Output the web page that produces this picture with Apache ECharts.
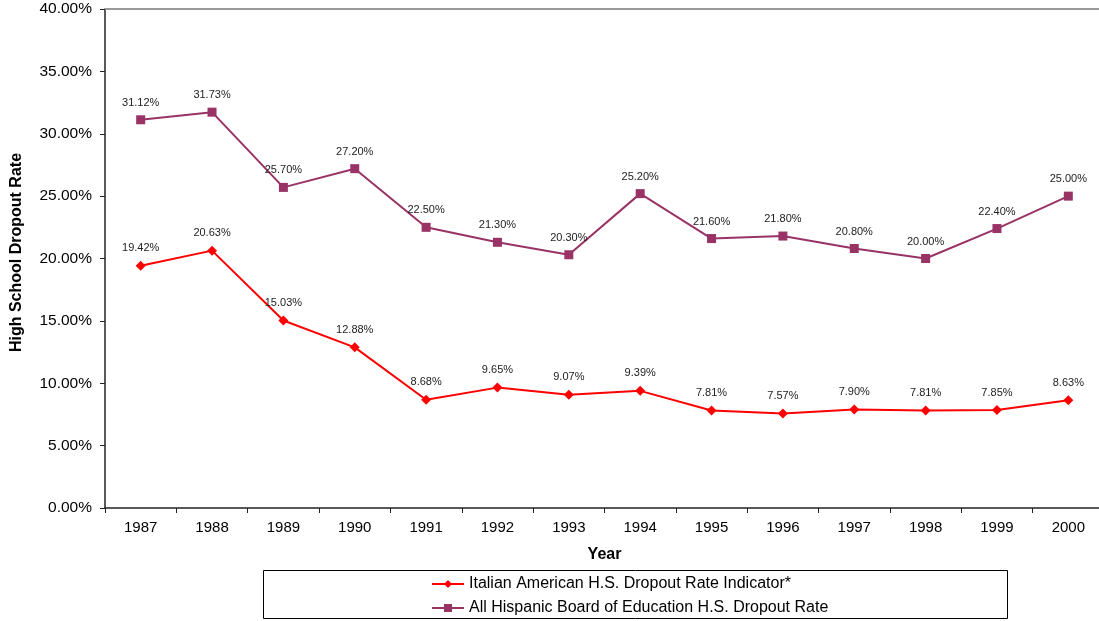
<!DOCTYPE html>
<html>
<head>
<meta charset="utf-8">
<script src="https://cdn.jsdelivr.net/npm/echarts@6/dist/echarts.min.js"></script>
<style>
  html, body { margin: 0; padding: 0; background: #fff; }
  #chart { width: 1099px; height: 621px; }
</style>
</head>
<body>
<div id="chart"></div>
<script>
// Năm (trục X)
const years = ['1987', '1988', '1989', '1990', '1991', '1992', '1993', '1994', '1995', '1996', '1997', '1998', '1999', '2000'];

// Tỉ lệ bỏ học (%)
const italianRates = [19.42, 20.63, 15.03, 12.88, 8.68, 9.65, 9.07, 9.39, 7.81, 7.57, 7.90, 7.81, 7.85, 8.63];
const hispanicRates = [31.12, 31.73, 25.70, 27.20, 22.50, 21.30, 20.30, 25.20, 21.60, 21.80, 20.80, 20.00, 22.40, 25.00];

const seriesNames = [
  'Italian American H.S. Dropout Rate Indicator*',
  'All Hispanic Board of Education H.S. Dropout Rate'
];

const FONT = 'Liberation Sans, Arial, sans-serif';

const chart = echarts.init(document.getElementById('chart'));

const pct = v => v.toFixed(2) + '%';

const labelStyle = {
  show: true,
  position: 'top',
  distance: 7,
  fontSize: 11,
  fontFamily: FONT,
  color: '#222',
  formatter: p => pct(p.value)
};

const option = {
  backgroundColor: '#fff',
  animation: false,
  textStyle: { fontFamily: FONT },
  grid: {
    left: 105,
    right: -5,
    top: 9,
    bottom: 113,
    outerBoundsMode: 'none'
  },
  // Khung legend
  graphic: [
    {
      type: 'rect',
      shape: { x: 263.5, y: 570.5, width: 744, height: 48 },
      style: { fill: 'none', stroke: '#000', lineWidth: 1 },
      silent: true
    }
  ],
  legend: {
    orient: 'vertical',
    left: 431,
    top: 576,
    padding: 0,
    itemWidth: 32,
    itemHeight: 10,
    itemGap: 8,
    textStyle: { fontSize: 16, lineHeight: 16, color: '#000', fontFamily: FONT },
    data: seriesNames
  },
  xAxis: [
    {
      type: 'category',
      data: years,
      boundaryGap: true,
      name: 'Year',
      nameLocation: 'middle',
      nameGap: 39,
      nameTextStyle: { fontSize: 16, fontWeight: 'bold', color: '#000' },
      axisLine: { lineStyle: { color: '#222', width: 1.5 } },
      axisTick: { show: true, length: 5, lineStyle: { color: '#222' } },
      axisLabel: { fontSize: 15, color: '#000', margin: 12 },
      splitLine: { show: false }
    },
    {
      // đường viền trên
      type: 'category',
      data: years,
      position: 'top',
      axisLine: { lineStyle: { color: '#999', width: 2 } },
      axisTick: { show: false },
      axisLabel: { show: false },
      splitLine: { show: false }
    }
  ],
  yAxis: {
    type: 'value',
    min: 0,
    max: 40,
    interval: 5,
    name: 'High School Dropout Rate',
    nameLocation: 'middle',
    nameGap: 80,
    nameRotate: 90,
    nameTextStyle: { fontSize: 16, fontWeight: 'bold', color: '#000', padding: [0, 0, 0, 12] },
    axisLine: { show: true, lineStyle: { color: '#222', width: 1.5 } },
    axisTick: { show: true, length: 5, lineStyle: { color: '#222' } },
    axisLabel: { fontSize: 15.5, color: '#000', margin: 13, formatter: v => pct(v) },
    splitLine: { show: false }
  },
  series: [
    {
      name: seriesNames[0],
      type: 'line',
      data: italianRates,
      symbol: 'diamond',
      symbolSize: 10,
      itemStyle: { color: '#FF0000' },
      lineStyle: { color: '#FF0000', width: 2 },
      label: labelStyle
    },
    {
      name: seriesNames[1],
      type: 'line',
      data: hispanicRates,
      symbol: 'rect',
      symbolSize: 9,
      itemStyle: { color: '#993366' },
      lineStyle: { color: '#993366', width: 2 },
      label: labelStyle
    }
  ]
};

chart.setOption(option);
</script>
</body>
</html>
